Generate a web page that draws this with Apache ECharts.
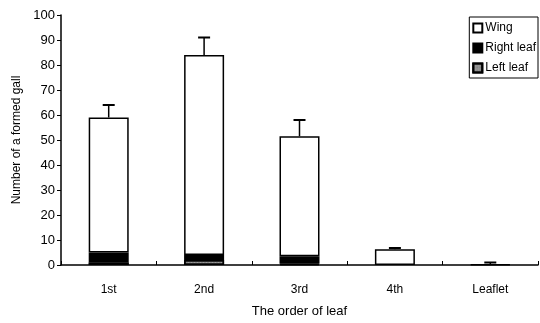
<!DOCTYPE html>
<html><head><meta charset="utf-8">
<script src="https://cdn.jsdelivr.net/npm/echarts@6/dist/echarts.min.js"></script>
<style>html,body{margin:0;padding:0;background:#fff}#c{width:540px;height:323px}</style>
</head><body><div id="c"></div>
<script>
const categories = ['1st', '2nd', '3rd', '4th', 'Leaflet'];
const leftLeaf = [1, 2, 0.5, 0, 0];
const rightLeaf = [4, 2, 3, 0, 0];
const wing = [54, 80, 48, 6.3, 0.3];
const errorTop = [64, 91, 58, 6.8, 1];
const yTicks = [0, 10, 20, 30, 40, 50, 60, 70, 80, 90, 100];

const totals = categories.map((c, i) => leftLeaf[i] + rightLeaf[i] + wing[i]);
const noZero = (arr) => arr.map(v => (v === 0 ? '-' : v));
const chart = echarts.init(document.getElementById('c'));
const font = 'Liberation Sans, Arial, sans-serif';
const barStyle = (color) => ({ color: color, borderColor: '#000', borderWidth: 1.5 });
chart.setOption({
  animation: false,
  textStyle: { fontFamily: font, color: '#000' },
  grid: { left: 61, right: 2, top: 15, bottom: 58 },
  legend: {
    orient: 'vertical', right: 2, top: 17,
    borderColor: '#000', borderWidth: 1, padding: [5, 2, 4, 3],
    itemWidth: 9, itemHeight: 9, itemGap: 8,
    textStyle: { fontFamily: font, fontSize: 12, color: '#000', padding: [0, 16, 0, -2] },
    data: [
      { name: 'Wing', icon: 'rect' },
      { name: 'Right leaf', icon: 'rect' },
      { name: 'Left leaf', icon: 'rect' }
    ]
  },
  xAxis: {
    type: 'category', data: categories,
    name: 'The order of leaf', nameLocation: 'middle', nameGap: 40,
    nameTextStyle: { fontFamily: font, fontSize: 13, color: '#000' },
    axisLine: { lineStyle: { color: '#000', width: 1.5 } },
    axisTick: { show: true, inside: true, length: 4, lineStyle: { color: '#000' } },
    axisLabel: { fontFamily: font, fontSize: 12, color: '#000', margin: 19 }
  },
  yAxis: {
    type: 'value', min: yTicks[0], max: yTicks[yTicks.length - 1], interval: 10,
    name: 'Number of a formed gall', nameLocation: 'middle', nameGap: 38,
    nameTextStyle: { fontFamily: font, fontSize: 12, color: '#000' },
    axisLine: { show: true, lineStyle: { color: '#000', width: 1.5 } },
    axisTick: { show: true, length: 4, lineStyle: { color: '#000' } },
    splitLine: { show: false },
    axisLabel: { fontFamily: font, fontSize: 13, color: '#000', margin: 6 }
  },
  series: [
    { name: 'Left leaf', type: 'bar', stack: 's', barWidth: 40, data: noZero(leftLeaf),
      itemStyle: Object.assign(barStyle('#9a9a9a'), { decal: { symbol: 'rect', symbolSize: 0.6, dashArrayX: [2, 1], dashArrayY: [2, 1], color: '#555' } }) },
    { name: 'Right leaf', type: 'bar', stack: 's', barWidth: 40, data: noZero(rightLeaf), itemStyle: barStyle('#000') },
    { name: 'Wing', type: 'bar', stack: 's', barWidth: 40, data: wing, itemStyle: barStyle('#fff') },
    { name: 'err', type: 'custom', z: 5,
      data: categories.map((c, i) => [i, totals[i], errorTop[i]]),
      renderItem: function (params, api) {
        const base = api.coord([api.value(0), api.value(1)]);
        const top = api.coord([api.value(0), api.value(2)]);
        const hw = 6;
        return { type: 'group', children: [
          { type: 'line', shape: { x1: base[0], y1: base[1], x2: top[0], y2: top[1] }, style: { stroke: '#000', lineWidth: 1.5 } },
          { type: 'line', shape: { x1: top[0] - hw, y1: top[1], x2: top[0] + hw, y2: top[1] }, style: { stroke: '#000', lineWidth: 2 } }
        ] };
      }
    }
  ]
});
</script></body></html>
